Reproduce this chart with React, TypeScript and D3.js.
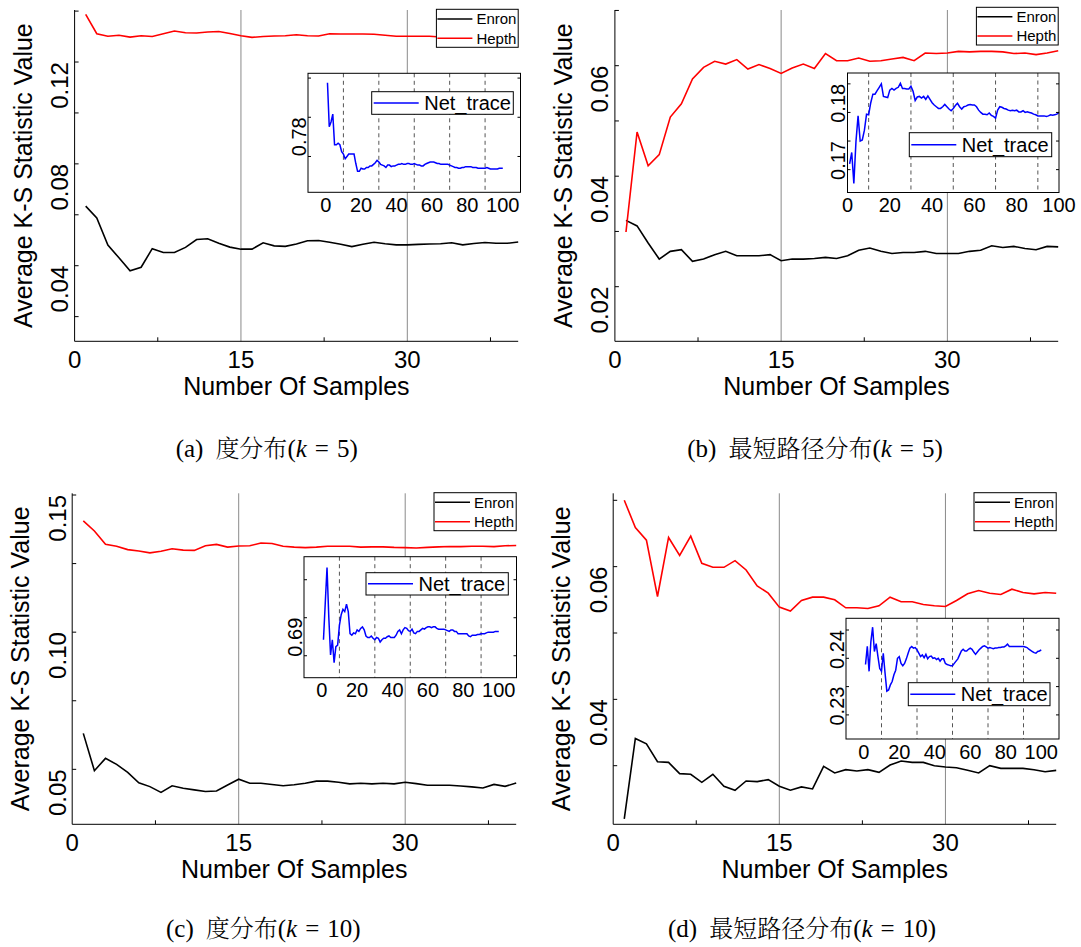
import React from "react";
import * as d3 from "d3";

// ---------------- data ----------------
const enronA = [0.0634,0.0588,0.0481,0.0431,0.0380,0.0394,0.0467,0.0452,0.0452,0.0472,0.0503,0.0506,0.0488,0.0473,0.0465,0.0465,0.0490,0.0478,0.0476,0.0485,0.0498,0.0499,0.0492,0.0484,0.0475,0.0484,0.0492,0.0486,0.0482,0.0482,0.0484,0.0485,0.0486,0.0490,0.0482,0.0487,0.0491,0.0488,0.0488,0.0493];
const hepthA = [0.1387,0.1311,0.1301,0.1305,0.1298,0.1303,0.1300,0.1311,0.1322,0.1315,0.1314,0.1318,0.1320,0.1312,0.1303,0.1297,0.1300,0.1302,0.1303,0.1307,0.1303,0.1302,0.1311,0.1310,0.1310,0.1310,0.1309,0.1305,0.1301,0.1301,0.1301,0.1301,0.1298,0.1296,0.1296,0.1296,0.1297,0.1296,0.1296,0.1297];
const enronB = [0.0320,0.0310,0.0279,0.0250,0.0264,0.0267,0.0246,0.0250,0.0258,0.0264,0.0256,0.0256,0.0256,0.0258,0.0247,0.0250,0.0250,0.0251,0.0253,0.0251,0.0256,0.0266,0.0270,0.0264,0.0260,0.0262,0.0262,0.0264,0.0260,0.0260,0.0260,0.0264,0.0266,0.0274,0.0271,0.0273,0.0269,0.0267,0.0273,0.0272];
const hepthB = [0.0299,0.0480,0.0419,0.0439,0.0507,0.0531,0.0576,0.0597,0.0608,0.0603,0.0611,0.0594,0.0602,0.0595,0.0586,0.0596,0.0603,0.0595,0.0622,0.0609,0.0609,0.0614,0.0608,0.0609,0.0612,0.0615,0.0609,0.0623,0.0622,0.0623,0.0626,0.0625,0.0626,0.0626,0.0625,0.0622,0.0623,0.0620,0.0623,0.0627];
const enronC = [0.0631,0.0495,0.0540,0.0518,0.0489,0.0451,0.0437,0.0416,0.0440,0.0431,0.0425,0.0419,0.0421,0.0443,0.0464,0.0449,0.0449,0.0445,0.0440,0.0444,0.0449,0.0457,0.0457,0.0453,0.0447,0.0449,0.0447,0.0449,0.0447,0.0453,0.0448,0.0442,0.0442,0.0442,0.0439,0.0436,0.0432,0.0445,0.0438,0.0450];
const hepthC = [0.1406,0.1369,0.1320,0.1313,0.1301,0.1296,0.1289,0.1295,0.1304,0.1299,0.1298,0.1315,0.1320,0.1310,0.1314,0.1315,0.1325,0.1323,0.1313,0.1310,0.1308,0.1310,0.1313,0.1313,0.1313,0.1310,0.1311,0.1311,0.1309,0.1308,0.1307,0.1309,0.1311,0.1312,0.1312,0.1313,0.1313,0.1312,0.1315,0.1316];
const enronD = [0.0220,0.0341,0.0333,0.0306,0.0305,0.0288,0.0287,0.0275,0.0287,0.0269,0.0263,0.0277,0.0276,0.0279,0.0269,0.0263,0.0268,0.0265,0.0299,0.0289,0.0294,0.0292,0.0294,0.0290,0.0301,0.0307,0.0305,0.0305,0.0300,0.0298,0.0297,0.0293,0.0289,0.0300,0.0296,0.0296,0.0296,0.0294,0.0291,0.0293];
const hepthD = [0.0700,0.0659,0.0640,0.0555,0.0644,0.0617,0.0646,0.0605,0.0599,0.0599,0.0609,0.0595,0.0571,0.0560,0.0539,0.0533,0.0549,0.0554,0.0554,0.0550,0.0538,0.0538,0.0537,0.0541,0.0554,0.0547,0.0547,0.0543,0.0541,0.0540,0.0549,0.0559,0.0564,0.0560,0.0558,0.0566,0.0561,0.0559,0.0561,0.0560];

const traceA = [0.7844,0.7788,0.7794,0.7804,0.7765,0.7765,0.7767,0.7765,0.7756,0.7753,
  0.7747,0.7750,0.7753,0.7753,0.7753,0.7753,0.7741,0.7731,0.7731,0.7735,
  0.7734,0.7734,0.7736,0.7736,0.7738,0.7738,0.7740,0.7742,0.7745,0.7743,
  0.7740,0.7739,0.7738,0.7736,0.7739,0.7739,0.7737,0.7738,0.7738,0.7739,
  0.7740,0.7740,0.7741,0.7740,0.7740,0.7741,0.7741,0.7740,0.7740,0.7741,
  0.7740,0.7739,0.7739,0.7738,0.7738,0.7740,0.7741,0.7742,0.7743,0.7743,
  0.7743,0.7742,0.7741,0.7741,0.7740,0.7740,0.7740,0.7740,0.7740,0.7739,
  0.7738,0.7737,0.7736,0.7736,0.7735,0.7735,0.7736,0.7736,0.7737,0.7737,
  0.7737,0.7737,0.7736,0.7736,0.7736,0.7735,0.7735,0.7735,0.7735,0.7735,
  0.7736,0.7735,0.7734,0.7734,0.7734,0.7734,0.7734,0.7735,0.7735,0.7735];
const traceB = [0.1660,0.1680,0.1626,0.1699,0.1744,0.1700,0.1702,0.1719,0.1747,0.1746,
  0.1767,0.1782,0.1782,0.1788,0.1794,0.1800,0.1778,0.1777,0.1776,0.1789,
  0.1792,0.1789,0.1792,0.1794,0.1801,0.1792,0.1792,0.1791,0.1791,0.1796,
  0.1787,0.1771,0.1777,0.1778,0.1775,0.1778,0.1773,0.1779,0.1773,0.1767,
  0.1763,0.1760,0.1757,0.1757,0.1760,0.1764,0.1760,0.1756,0.1753,0.1757,
  0.1762,0.1766,0.1760,0.1756,0.1760,0.1761,0.1763,0.1764,0.1763,0.1763,
  0.1760,0.1754,0.1750,0.1747,0.1747,0.1746,0.1749,0.1745,0.1743,0.1740,
  0.1754,0.1760,0.1759,0.1757,0.1756,0.1754,0.1753,0.1754,0.1753,0.1754,
  0.1751,0.1751,0.1753,0.1750,0.1751,0.1750,0.1749,0.1747,0.1746,0.1744,
  0.1744,0.1744,0.1744,0.1743,0.1744,0.1746,0.1745,0.1746,0.1747,0.1750];
const traceC = [0.6871,0.6919,0.6966,0.6901,0.6851,0.6871,0.6841,0.6862,0.6864,0.6890,
  0.6904,0.6911,0.6908,0.6918,0.6908,0.6879,0.6877,0.6880,0.6879,0.6884,
  0.6882,0.6886,0.6888,0.6884,0.6876,0.6874,0.6874,0.6876,0.6873,0.6871,
  0.6874,0.6873,0.6868,0.6871,0.6873,0.6873,0.6875,0.6876,0.6874,0.6874,
  0.6874,0.6877,0.6882,0.6884,0.6879,0.6884,0.6887,0.6886,0.6883,0.6882,
  0.6885,0.6880,0.6879,0.6882,0.6882,0.6884,0.6886,0.6885,0.6887,0.6888,
  0.6888,0.6887,0.6888,0.6888,0.6886,0.6885,0.6885,0.6885,0.6885,0.6884,
  0.6883,0.6882,0.6884,0.6884,0.6882,0.6882,0.6879,0.6879,0.6879,0.6879,
  0.6879,0.6879,0.6876,0.6875,0.6877,0.6877,0.6877,0.6878,0.6878,0.6879,
  0.6879,0.6879,0.6880,0.6881,0.6881,0.6881,0.6881,0.6882,0.6882,0.6882];
const traceD = [0.2339,0.2371,0.2327,0.2379,0.2405,0.2362,0.2376,0.2353,0.2332,0.2327,
  0.2359,0.2324,0.2292,0.2294,0.2303,0.2309,0.2321,0.2329,0.2350,0.2353,
  0.2341,0.2337,0.2341,0.2349,0.2359,0.2368,0.2371,0.2368,0.2369,0.2365,
  0.2359,0.2353,0.2356,0.2351,0.2357,0.2349,0.2353,0.2354,0.2350,0.2351,
  0.2348,0.2350,0.2345,0.2349,0.2349,0.2341,0.2339,0.2338,0.2337,0.2337,
  0.2341,0.2345,0.2349,0.2356,0.2363,0.2366,0.2363,0.2363,0.2366,0.2368,
  0.2366,0.2361,0.2357,0.2361,0.2365,0.2368,0.2371,0.2372,0.2370,0.2368,
  0.2369,0.2368,0.2367,0.2368,0.2368,0.2369,0.2369,0.2370,0.2370,0.2372,
  0.2375,0.2371,0.2371,0.2371,0.2371,0.2371,0.2371,0.2371,0.2371,0.2371,
  0.2370,0.2369,0.2366,0.2364,0.2362,0.2360,0.2359,0.2362,0.2363,0.2365];

// ticks
const mainXLabelTicks = [0, 15, 30];
const mainXMinorTicks = [7.5, 22.5, 37.5];
const mainXGridTicks = [15, 30];
const insetXLabelTicks = [0, 20, 40, 60, 80, 100];
const insetXGridTicks = [10, 30, 50, 70, 90];

const yTicksA = [0.02, 0.04, 0.06, 0.08, 0.1, 0.12, 0.14];
const yLabelsA = [0.04, 0.08, 0.12];
const yTicksB = [0.02, 0.03, 0.04, 0.05, 0.06, 0.07];
const yLabelsB = [0.02, 0.04, 0.06];
const yTicksC = [0.05, 0.075, 0.1, 0.125, 0.15];
const yLabelsC = [0.05, 0.1, 0.15];
const yTicksD = [0.03, 0.04, 0.05, 0.06, 0.07];
const yLabelsD = [0.04, 0.06];

const insetYTicksA = [0.775, 0.78, 0.785];
const insetYLabelsA = [0.78];
const insetYTicksB = [0.165, 0.17, 0.175, 0.18];
const insetYLabelsB = [0.17, 0.18];
const insetYTicksC = [0.685, 0.69, 0.695];
const insetYLabelsC = [0.69];
const insetYTicksD = [0.225, 0.23, 0.235, 0.24];
const insetYLabelsD = [0.23, 0.24];

const seriesNames = ["Enron", "Hepth"];
const insetSeriesName = "Net_trace";
const xTitle = "Number Of Samples";
const yTitle = "Average K-S Statistic Value";
const captionTags = ["(a)", "(b)", "(c)", "(d)"];
const captionMeasures = ["度分布", "最短路径分布", "度分布", "最短路径分布"];
const captionK = ["5", "5", "10", "10"];

// ---------------- drawing ----------------
const SANS = "'Liberation Sans', Arial, Helvetica, sans-serif";
const SERIF = "'Liberation Serif', 'Times New Roman', serif";
const CJK = "'Noto Serif CJK SC', 'Noto Sans CJK SC', sans-serif";
const fmt = d3.format(".2f");

type Box = { left: number; right: number; top: number; bottom: number };

function Inset(props: {
  b: Box; data: number[]; xDomain: [number, number]; yDomain: [number, number];
  yTicks: number[]; yLabels: number[];
  leg: { x1: number; x2: number; y1: number; y2: number };
}) {
  const { b, data, xDomain, yDomain, yTicks, yLabels, leg } = props;
  const x = d3.scaleLinear().domain(xDomain).range([b.left, b.right]);
  const y = d3.scaleLinear().domain(yDomain).range([b.bottom, b.top]);
  const line = d3.line<number>().x((_, i) => x(i + 1)).y((d) => y(d));
  const ly = (leg.y1 + leg.y2) / 2;
  return (
    <g>
      <rect x={b.left} y={b.top} width={b.right - b.left} height={b.bottom - b.top} fill="#fff" />
      {insetXGridTicks.map((t) => (
        <line key={t} x1={x(t)} x2={x(t)} y1={b.top} y2={b.bottom} stroke="#555" strokeWidth={1} strokeDasharray="4 3.5" />
      ))}
      <path d={line(data) || ""} fill="none" stroke="#0000ff" strokeWidth={1.5} />
      <rect x={b.left} y={b.top} width={b.right - b.left} height={b.bottom - b.top} fill="none" stroke="#000" strokeWidth={1} />
      {yTicks.map((t) => (
        <g key={t}>
          <line x1={b.left} x2={b.left + 3} y1={y(t)} y2={y(t)} stroke="#000" />
          <line x1={b.right} x2={b.right - 3} y1={y(t)} y2={y(t)} stroke="#000" />
        </g>
      ))}
      {insetXLabelTicks.map((t) => (
        <text key={t} x={x(t)} y={b.bottom + 19.5} textAnchor="middle" fontFamily={SANS} fontSize={20} fill="#000">{t}</text>
      ))}
      {yLabels.map((t) => (
        <text key={t} transform={`translate(${b.left - 2.5},${y(t)}) rotate(-90)`} textAnchor="end" fontFamily={SANS} fontSize={20} fill="#000">{fmt(t)}</text>
      ))}
      <rect x={leg.x1} y={leg.y1} width={leg.x2 - leg.x1} height={leg.y2 - leg.y1} fill="#fff" stroke="#000" strokeWidth={1} />
      <line x1={leg.x1 + 2} x2={leg.x1 + 47} y1={ly} y2={ly} stroke="#0000ff" strokeWidth={1.5} />
      <text x={leg.x1 + 52.5} y={ly + 7.2} fontFamily={SANS} fontSize={20} fill="#000">{insetSeriesName}</text>
    </g>
  );
}

function Panel(props: {
  idx: number;
  left: number; right: number; top: number; bottom: number;
  yDomain: [number, number]; yRange: [number, number];
  enron: number[]; hepth: number[]; yTicks: number[]; yLabels: number[];
  legend: { x1: number; x2: number; y1: number; y2: number; r1: number; r2: number };
  inset: React.ReactNode;
  capX: number; capY: number;
}) {
  const p = props;
  const x = d3.scaleLinear().domain([0, 40]).range([p.left, p.right]);
  const y = d3.scaleLinear().domain(p.yDomain).range(p.yRange);
  const line = d3.line<number>().x((_, i) => x(i + 1)).y((d) => y(d));
  const lg = p.legend;
  const colors = ["#000000", "#ff0000"];
  const rows = [lg.r1, lg.r2];
  return (
    <g>
      {mainXGridTicks.map((t) => (
        <line key={t} x1={x(t)} x2={x(t)} y1={p.bottom} y2={p.top} stroke="#8a8a8a" strokeWidth={1} />
      ))}
      <path d={line(p.enron) || ""} fill="none" stroke="#000" strokeWidth={1.6} />
      <path d={line(p.hepth) || ""} fill="none" stroke="#ff0000" strokeWidth={1.6} />
      <line x1={p.left} x2={p.left} y1={p.top} y2={p.bottom} stroke="#000" strokeWidth={1} />
      <line x1={p.left} x2={p.right} y1={p.bottom} y2={p.bottom} stroke="#000" strokeWidth={1} />
      {p.yTicks.map((t) => (
        <line key={t} x1={p.left} x2={p.left + 4} y1={y(t)} y2={y(t)} stroke="#000" />
      ))}
      {mainXMinorTicks.map((t) => (
        <line key={t} x1={x(t)} x2={x(t)} y1={p.bottom} y2={p.bottom - 4} stroke="#000" />
      ))}
      {mainXLabelTicks.map((t) => (
        <text key={t} x={x(t)} y={p.bottom + 27} textAnchor="middle" fontFamily={SANS} fontSize={24} fill="#000">{t}</text>
      ))}
      {p.yLabels.map((t) => (
        <text key={t} transform={`translate(${p.left - 6.6},${y(t)}) rotate(-90)`} textAnchor="end" fontFamily={SANS} fontSize={24} fill="#000">{fmt(t)}</text>
      ))}
      <text x={(p.left + p.right) / 2} y={p.bottom + 54} textAnchor="middle" fontFamily={SANS} fontSize={25} fill="#000">{xTitle}</text>
      <text transform={`translate(${p.left - 43},${(p.top + p.bottom) / 2}) rotate(-90)`} textAnchor="middle" fontFamily={SANS} fontSize={25} fill="#000">{yTitle}</text>
      <rect x={lg.x1} y={lg.y1} width={lg.x2 - lg.x1} height={lg.y2 - lg.y1} fill="#fff" stroke="#000" strokeWidth={1} />
      {seriesNames.map((s, i) => (
        <g key={s}>
          <line x1={lg.x1 + 1} x2={lg.x1 + 36} y1={rows[i]} y2={rows[i]} stroke={colors[i]} strokeWidth={1.5} />
          <text x={lg.x1 + 40} y={rows[i] + 5.4} fontFamily={SANS} fontSize={15} fill="#000">{s}</text>
        </g>
      ))}
      {p.inset}
      <text x={p.capX} y={p.capY} textAnchor="middle" fontFamily={SERIF} fontSize={25} fill="#000">
        <tspan>{captionTags[p.idx]}</tspan>
        <tspan dx={12} fontFamily={CJK} fontSize={24} fontWeight={300}>{captionMeasures[p.idx]}</tspan>
        <tspan>(</tspan>
        <tspan fontStyle="italic">k</tspan>
        <tspan dx={8}>=</tspan>
        <tspan dx={8}>{captionK[p.idx]})</tspan>
      </text>
    </g>
  );
}

export default function App() {
  return (
    <svg width={1081} height={947} style={{ position: "absolute", left: 0, top: 0, background: "#fff" }}>
      <rect x={0} y={0} width={1081} height={947} fill="#fff" />
      <Panel idx={0} left={74.6} right={518.2} top={10} bottom={341.3}
        yDomain={[0.01, 0.14]} yRange={[342.1, 11.1]} enron={enronA} hepth={hepthA}
        yTicks={yTicksA} yLabels={yLabelsA}
        legend={{ x1: 436.4, x2: 518.2, y1: 9.3, y2: 47.3, r1: 19, r2: 38.3 }}
        capX={266.7} capY={457}
        inset={<Inset b={{ left: 308, right: 520.5, top: 73.3, bottom: 192.3 }} data={traceA}
          xDomain={[-10, 110]} yDomain={[0.77043, 0.78561]} yTicks={insetYTicksA} yLabels={insetYLabelsA}
          leg={{ x1: 371.7, x2: 513.3, y1: 91.7, y2: 114.3 }} />}
      />
      <Panel idx={1} left={614.9} right={1058.2} top={10} bottom={341.3}
        yDomain={[0.01, 0.07]} yRange={[341.95, 10.45]} enron={enronB} hepth={hepthB}
        yTicks={yTicksB} yLabels={yLabelsB}
        legend={{ x1: 976.4, x2: 1058.2, y1: 7.3, y2: 45, r1: 16.7, r2: 36 }}
        capX={815} capY={457}
        inset={<Inset b={{ left: 847.5, right: 1059, top: 73, bottom: 192.5 }} data={traceB}
          xDomain={[0, 100]} yDomain={[0.161, 0.1819]} yTicks={insetYTicksB} yLabels={insetYLabelsB}
          leg={{ x1: 909.3, x2: 1051.7, y1: 132.7, y2: 156.7 }} />}
      />
      <Panel idx={2} left={72.2} right={516.2} top={493.3} bottom={824.3}
        yDomain={[0.03, 0.15]} yRange={[824.2, 495]} enron={enronC} hepth={hepthC}
        yTicks={yTicksC} yLabels={yLabelsC}
        legend={{ x1: 434, x2: 516.2, y1: 492.7, y2: 530.7, r1: 502.3, r2: 521.7 }}
        capX={263.3} capY={937}
        inset={<Inset b={{ left: 304, right: 516.5, top: 556.7, bottom: 677.7 }} data={traceC}
          xDomain={[-10, 110]} yDomain={[0.68211, 0.69803]} yTicks={insetYTicksC} yLabels={insetYLabelsC}
          leg={{ x1: 366, x2: 508.3, y1: 572.7, y2: 595 }} />}
      />
      <Panel idx={3} left={613.2} right={1056.2} top={493.3} bottom={824.3}
        yDomain={[0.03, 0.07]} yRange={[765.7, 500.3]} enron={enronD} hepth={hepthD}
        yTicks={yTicksD} yLabels={yLabelsD}
        legend={{ x1: 974, x2: 1056.2, y1: 492.7, y2: 530.7, r1: 502.3, r2: 521.7 }}
        capX={802} capY={937}
        inset={<Inset b={{ left: 846, right: 1059, top: 618.3, bottom: 739 }} data={traceD}
          xDomain={[-10, 110]} yDomain={[0.22074, 0.24207]} yTicks={insetYTicksD} yLabels={insetYLabelsD}
          leg={{ x1: 908.3, x2: 1050, y1: 682.7, y2: 705.7 }} />}
      />
    </svg>
  );
}
